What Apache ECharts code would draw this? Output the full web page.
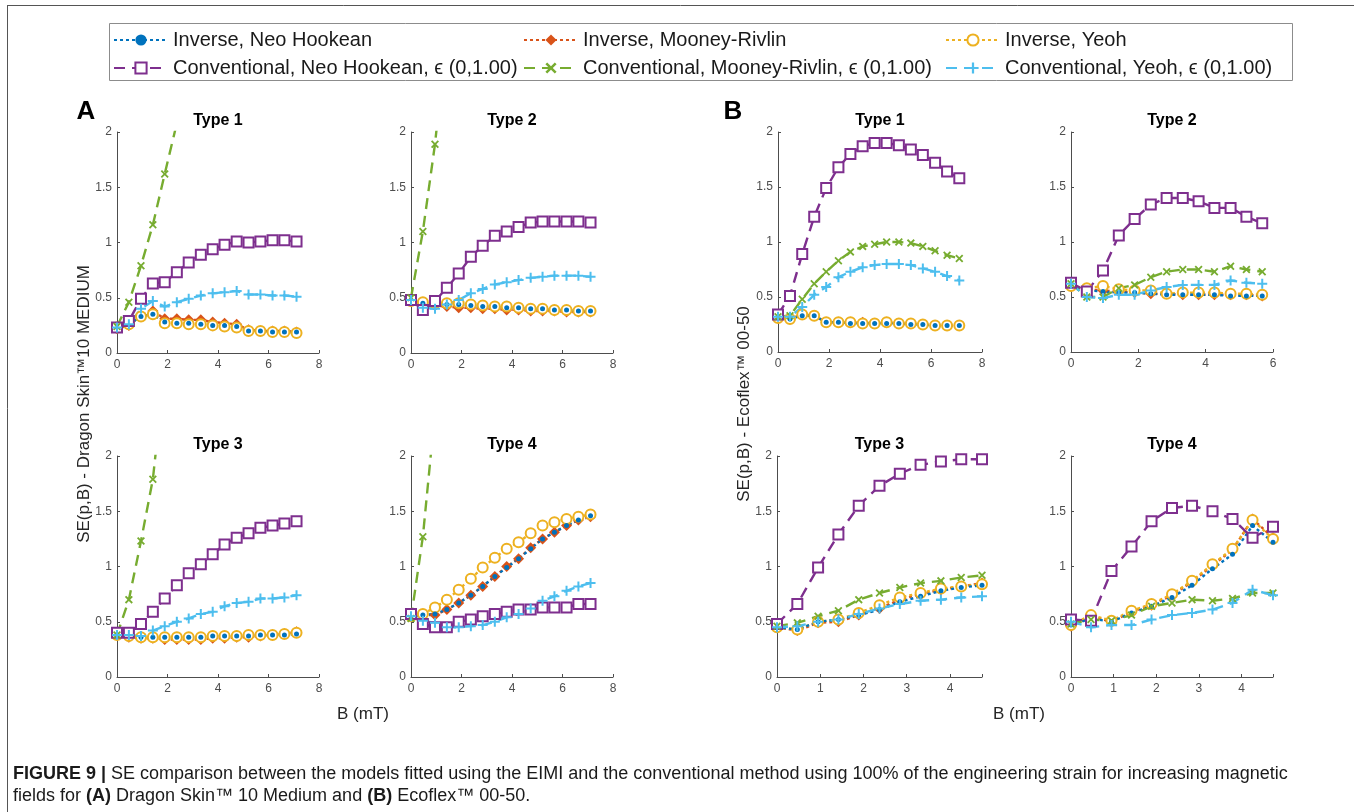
<!DOCTYPE html>
<html>
<head>
<meta charset="utf-8">
<script src="https://cdn.jsdelivr.net/npm/echarts@6/dist/echarts.min.js"></script>
<style>
html,body{margin:0;padding:0;background:#fff;}
#c{width:1354px;height:812px;}
</style>
</head>
<body>
<div id="c"></div>
<script>
// ---------------- DATA ----------------
const xA  = [0,0.47,0.95,1.42,1.89,2.37,2.84,3.32,3.79,4.26,4.74,5.21,5.68,6.16,6.63,7.11];
const xB2 = [0,0.47,0.95,1.42,1.89,2.37,2.84,3.32,3.79,4.26,4.74,5.21,5.68];
const xB34 = [0,0.47,0.95,1.42,1.89,2.37,2.84,3.32,3.79,4.26,4.74];

const yTicks = [0, 0.5, 1, 1.5, 2];
const panelTitles = ['Type 1','Type 2','Type 3','Type 4'];
const seriesNames = {
  invNH: 'Inverse, Neo Hookean',
  invMR: 'Inverse, Mooney-Rivlin',
  invYeoh: 'Inverse, Yeoh',
  convNH: 'Conventional, Neo Hookean, \u03F5 (0,1.00)',
  convMR: 'Conventional, Mooney-Rivlin, \u03F5 (0,1.00)',
  convYeoh: 'Conventional, Yeoh, \u03F5 (0,1.00)'
};

// Panel A (Dragon Skin 10 Medium)
const A1_invNH   = [0.23,0.26,0.33,0.35,0.28,0.27,0.27,0.26,0.25,0.25,0.24,0.20,0.20,0.19,0.19,0.19];
const A1_invMR   = [0.22,0.25,0.34,0.38,0.31,0.31,0.30,0.30,0.28,0.27,0.26,0.21,0.20,0.20,0.20,0.19];
const A1_invYeoh = [0.23,0.26,0.33,0.35,0.27,0.27,0.26,0.26,0.25,0.24,0.23,0.20,0.20,0.19,0.19,0.18];
const A1_convNH  = [0.23,0.29,0.49,0.63,0.64,0.73,0.82,0.89,0.94,0.98,1.01,1.00,1.01,1.02,1.02,1.01];
const A1_convMR  = [0.24,0.46,0.79,1.16,1.62,2.08];
const A1_convYeoh= [0.23,0.26,0.40,0.47,0.42,0.46,0.49,0.52,0.54,0.55,0.56,0.53,0.53,0.52,0.52,0.51];

const A2_invNH   = [0.47,0.45,0.44,0.44,0.44,0.43,0.42,0.42,0.41,0.41,0.40,0.40,0.39,0.39,0.38,0.38];
const A2_invMR   = [0.47,0.44,0.43,0.42,0.41,0.41,0.40,0.40,0.39,0.39,0.38,0.38,0.38,0.37,0.37,0.37];
const A2_invYeoh = [0.47,0.46,0.45,0.45,0.45,0.44,0.43,0.42,0.42,0.41,0.40,0.40,0.39,0.39,0.38,0.38];
const A2_convNH  = [0.48,0.39,0.47,0.59,0.72,0.87,0.97,1.06,1.10,1.14,1.18,1.19,1.19,1.19,1.19,1.18];
const A2_convMR  = [0.50,1.10,1.89,2.90];
const A2_convYeoh= [0.48,0.41,0.40,0.44,0.48,0.54,0.58,0.62,0.64,0.66,0.68,0.69,0.70,0.70,0.70,0.69];

const A3_invNH   = [0.38,0.37,0.36,0.36,0.36,0.36,0.36,0.36,0.37,0.37,0.37,0.37,0.38,0.38,0.38,0.39];
const A3_invMR   = [0.38,0.36,0.35,0.35,0.34,0.34,0.34,0.34,0.35,0.35,0.36,0.36,0.37,0.38,0.39,0.41];
const A3_invYeoh = [0.38,0.37,0.36,0.36,0.36,0.36,0.36,0.36,0.37,0.37,0.37,0.38,0.38,0.38,0.39,0.40];
const A3_convNH  = [0.40,0.40,0.48,0.59,0.71,0.83,0.94,1.02,1.11,1.20,1.26,1.30,1.35,1.37,1.39,1.41];
const A3_convMR  = [0.38,0.70,1.23,1.79,2.78];
const A3_convYeoh= [0.38,0.38,0.37,0.42,0.46,0.50,0.53,0.57,0.59,0.64,0.67,0.68,0.71,0.71,0.72,0.74];

const A4_invNH   = [0.55,0.56,0.57,0.61,0.67,0.74,0.82,0.91,0.99,1.07,1.16,1.25,1.31,1.37,1.42,1.46];
const A4_invMR   = [0.55,0.56,0.56,0.61,0.67,0.74,0.82,0.91,1.00,1.07,1.17,1.25,1.31,1.37,1.42,1.45];
const A4_invYeoh = [0.55,0.57,0.63,0.70,0.79,0.89,0.99,1.08,1.16,1.22,1.30,1.37,1.40,1.43,1.45,1.47];
const A4_convNH  = [0.57,0.48,0.45,0.45,0.50,0.52,0.55,0.57,0.59,0.61,0.61,0.63,0.63,0.63,0.66,0.66];
const A4_convMR  = [0.53,1.27,2.40];
const A4_convYeoh= [0.55,0.51,0.49,0.45,0.45,0.46,0.47,0.50,0.54,0.57,0.62,0.69,0.73,0.78,0.82,0.85];

// Panel B (Ecoflex 00-50)
const B1_invNH   = [0.31,0.30,0.33,0.33,0.27,0.27,0.26,0.26,0.26,0.26,0.26,0.25,0.25,0.24,0.24,0.24];
const B1_invMR   = [0.31,0.30,0.34,0.33,0.27,0.27,0.27,0.27,0.26,0.27,0.26,0.26,0.25,0.24,0.24,0.24];
const B1_invYeoh = [0.31,0.30,0.34,0.33,0.27,0.27,0.27,0.26,0.26,0.27,0.26,0.26,0.25,0.24,0.24,0.24];
const B1_convNH  = [0.34,0.51,0.89,1.23,1.49,1.68,1.80,1.87,1.90,1.90,1.88,1.84,1.79,1.72,1.64,1.58];
const B1_convMR  = [0.32,0.33,0.48,0.62,0.73,0.83,0.91,0.96,0.98,1.00,1.00,0.99,0.96,0.92,0.88,0.85];
const B1_convYeoh= [0.32,0.32,0.41,0.52,0.59,0.68,0.73,0.77,0.79,0.80,0.80,0.79,0.76,0.73,0.69,0.65];

const B2_invNH   = [0.60,0.56,0.55,0.54,0.54,0.53,0.52,0.52,0.52,0.52,0.51,0.51,0.51];
const B2_invMR   = [0.60,0.57,0.56,0.55,0.54,0.53,0.53,0.52,0.52,0.52,0.52,0.52,0.51];
const B2_invYeoh = [0.60,0.58,0.60,0.57,0.56,0.56,0.53,0.54,0.54,0.54,0.53,0.53,0.52];
const B2_convNH  = [0.63,0.55,0.74,1.06,1.21,1.34,1.40,1.40,1.37,1.31,1.31,1.23,1.17];
const B2_convMR  = [0.62,0.50,0.50,0.58,0.61,0.68,0.73,0.75,0.75,0.73,0.78,0.75,0.73];
const B2_convYeoh= [0.62,0.50,0.49,0.52,0.52,0.56,0.59,0.61,0.61,0.61,0.65,0.63,0.62];

const B3_invNH   = [0.45,0.43,0.50,0.52,0.56,0.61,0.68,0.73,0.78,0.81,0.83];
const B3_invMR   = [0.45,0.42,0.49,0.50,0.56,0.62,0.70,0.75,0.79,0.82,0.85];
const B3_invYeoh = [0.45,0.43,0.50,0.52,0.58,0.65,0.72,0.76,0.80,0.82,0.84];
const B3_convNH  = [0.48,0.66,0.99,1.29,1.55,1.73,1.84,1.92,1.95,1.97,1.97];
const B3_convMR  = [0.46,0.49,0.55,0.60,0.70,0.76,0.81,0.85,0.87,0.90,0.92];
const B3_convYeoh= [0.45,0.46,0.50,0.52,0.57,0.62,0.66,0.69,0.70,0.72,0.73];

const B4_invNH   = [0.47,0.53,0.50,0.58,0.64,0.72,0.83,0.98,1.11,1.37,1.22];
const B4_invMR   = [0.46,0.55,0.50,0.59,0.65,0.74,0.86,1.01,1.15,1.43,1.26];
const B4_invYeoh = [0.47,0.56,0.51,0.60,0.66,0.75,0.87,1.02,1.16,1.42,1.25];
const B4_convNH  = [0.52,0.51,0.96,1.18,1.41,1.53,1.55,1.50,1.43,1.26,1.36];
const B4_convMR  = [0.48,0.52,0.51,0.56,0.64,0.67,0.70,0.69,0.71,0.76,0.76];
const B4_convYeoh= [0.50,0.45,0.47,0.47,0.52,0.56,0.58,0.61,0.67,0.79,0.74];

// ---------------- LAYOUT / STYLE ----------------
const FONT = '"Liberation Sans", Arial, Helvetica, sans-serif';
const AXC = '#4d4d4d';
const panels = [
  {x: xA,   xmax: 8,    xint: 2, grid:{left:117, top:132, width:202, height:221}, title:panelTitles[0], d:{invNH:A1_invNH,invMR:A1_invMR,invYeoh:A1_invYeoh,convNH:A1_convNH,convMR:A1_convMR,convYeoh:A1_convYeoh}},
  {x: xA,   xmax: 8,    xint: 2, grid:{left:411, top:132, width:202, height:221}, title:panelTitles[1], d:{invNH:A2_invNH,invMR:A2_invMR,invYeoh:A2_invYeoh,convNH:A2_convNH,convMR:A2_convMR,convYeoh:A2_convYeoh}},
  {x: xA,   xmax: 8,    xint: 2, grid:{left:117, top:456, width:202, height:221}, title:panelTitles[2], d:{invNH:A3_invNH,invMR:A3_invMR,invYeoh:A3_invYeoh,convNH:A3_convNH,convMR:A3_convMR,convYeoh:A3_convYeoh}},
  {x: xA,   xmax: 8,    xint: 2, grid:{left:411, top:456, width:202, height:221}, title:panelTitles[3], d:{invNH:A4_invNH,invMR:A4_invMR,invYeoh:A4_invYeoh,convNH:A4_convNH,convMR:A4_convMR,convYeoh:A4_convYeoh}},
  {x: xA,   xmax: 8,    xint: 2, grid:{left:778, top:132, width:204, height:220}, title:panelTitles[0], d:{invNH:B1_invNH,invMR:B1_invMR,invYeoh:B1_invYeoh,convNH:B1_convNH,convMR:B1_convMR,convYeoh:B1_convYeoh}},
  {x: xB2,  xmax: 6,    xint: 2, grid:{left:1071, top:132, width:202, height:220}, title:panelTitles[1], d:{invNH:B2_invNH,invMR:B2_invMR,invYeoh:B2_invYeoh,convNH:B2_convNH,convMR:B2_convMR,convYeoh:B2_convYeoh}},
  {x: xB34, xmax: 4.74, xint: 1, grid:{left:777, top:456, width:205, height:221}, title:panelTitles[2], d:{invNH:B3_invNH,invMR:B3_invMR,invYeoh:B3_invYeoh,convNH:B3_convNH,convMR:B3_convMR,convYeoh:B3_convYeoh}},
  {x: xB34, xmax: 4.74, xint: 1, grid:{left:1071, top:456, width:202, height:221}, title:panelTitles[3], d:{invNH:B4_invNH,invMR:B4_invMR,invYeoh:B4_invYeoh,convNH:B4_convNH,convMR:B4_convMR,convYeoh:B4_convYeoh}}
];

const PLUS = 'path://M4,0H6V4H10V6H6V10H4V6H0V4H4Z';
const CROSS = 'path://M1.6,0L5,3.4L8.4,0L10,1.6L6.6,5L10,8.4L8.4,10L5,6.6L1.6,10L0,8.4L3.4,5L0,1.6Z';

const styles = {
  invMR:   {color:'#D95319', dash:[3,3], symbol:'diamond', size:11, border:0},
  invYeoh: {color:'#EDB120', dash:[3,3], symbol:'emptyCircle', size:10, border:3},
  invNH:   {color:'#0072BD', dash:[3,3], symbol:'circle', size:5, border:0},
  convNH:  {color:'#7E2F8E', dash:[11,7], symbol:'emptyRect', size:10, border:2.5},
  convMR:  {color:'#77AC30', dash:[11,7], symbol:CROSS, size:8, border:0},
  convYeoh:{color:'#4DBEEE', dash:[11,7], symbol:PLUS, size:10, border:0}
};
const drawOrder = ['invMR','invYeoh','invNH','convNH','convMR','convYeoh'];

function zip(xs, ys){ return ys.map((y,i)=>[xs[i], y]); }

const grids=[], xAxes=[], yAxes=[], series=[];
panels.forEach((p,gi)=>{
  grids.push(Object.assign({containLabel:false}, p.grid));
  xAxes.push({
    type:'value', gridIndex:gi, min:0, max:p.xmax, interval:p.xint,
    axisLine:{show:true, onZero:false, lineStyle:{color:AXC, width:1}},
    axisTick:{show:true, inside:true, length:3, lineStyle:{color:AXC}},
    axisLabel:{color:AXC, fontSize:12, fontFamily:FONT, margin:6,
      formatter:(v)=> (Math.abs(v/p.xint - Math.round(v/p.xint))<1e-6 ? String(Math.round(v)) : '')},
    splitLine:{show:false}
  });
  yAxes.push({
    type:'value', gridIndex:gi, min:yTicks[0], max:yTicks[yTicks.length-1], interval:0.5,
    axisLine:{show:true, onZero:false, lineStyle:{color:AXC, width:1}},
    axisTick:{show:true, inside:true, length:3, lineStyle:{color:AXC}},
    axisLabel:{color:AXC, fontSize:12, fontFamily:FONT, margin:5},
    splitLine:{show:false}
  });
  drawOrder.forEach(k=>{
    const s = styles[k];
    series.push({
      type:'line', name:seriesNames[k], xAxisIndex:gi, yAxisIndex:gi,
      data: zip(p.x, p.d[k]),
      symbol:s.symbol, symbolSize:s.size, showAllSymbol:true,
      clip:true, animation:false, z: 2,
      lineStyle:{color:s.color, width:2.4, type:s.dash},
      itemStyle:{color:s.color, borderColor:s.color, borderWidth:s.border},
      emphasis:{disabled:true}
    });
  });
});

const legendCommon = {
  orient:'vertical', top:30, itemWidth:54, itemHeight:14, itemGap:8, padding:0,
  textStyle:{fontSize:20, fontFamily:FONT, color:'#1a1a1a', lineHeight:20},
  selectedMode:false
};
const legends = [
  Object.assign({left:113, data:[seriesNames.invNH, seriesNames.convNH]}, legendCommon),
  Object.assign({left:523, data:[seriesNames.invMR, seriesNames.convMR]}, legendCommon),
  Object.assign({left:945, data:[seriesNames.invYeoh, seriesNames.convYeoh]}, legendCommon)
];

const graphics = [];
// figure frame
graphics.push({type:'line', shape:{x1:7, y1:5.5, x2:1354, y2:5.5}, style:{stroke:'#555', lineWidth:1}, silent:true});
graphics.push({type:'line', shape:{x1:7.5, y1:5, x2:7.5, y2:812}, style:{stroke:'#555', lineWidth:1}, silent:true});
// legend box
graphics.push({type:'rect', shape:{x:109.5, y:23.5, width:1183, height:57}, style:{fill:null, stroke:'#8c8c8c', lineWidth:1}, silent:true, z:-1});
// panel letters
graphics.push({type:'text', x:86, y:112, style:{text:'A', fontSize:26, fontWeight:'bold', fontFamily:FONT, fill:'#000', align:'center', verticalAlign:'middle'}});
graphics.push({type:'text', x:733, y:112, style:{text:'B', fontSize:26, fontWeight:'bold', fontFamily:FONT, fill:'#000', align:'center', verticalAlign:'middle'}});
// subplot titles
panels.forEach(p=>{
  graphics.push({type:'text', x:p.grid.left + p.grid.width/2, y:p.grid.top - 11,
    style:{text:p.title, fontSize:16, fontWeight:'bold', fontFamily:FONT, fill:'#000', align:'center', verticalAlign:'middle'}});
});
// y labels
graphics.push({type:'text', x:84, y:404, rotation:Math.PI/2,
  style:{text:'SE(p,B) - Dragon Skin\u212210 MEDIUM', fontSize:17, fontFamily:FONT, fill:'#262626', align:'center', verticalAlign:'middle'}});
graphics.push({type:'text', x:744, y:404, rotation:Math.PI/2,
  style:{text:'SE(p,B) - Ecoflex\u2122 00-50', fontSize:17, fontFamily:FONT, fill:'#262626', align:'center', verticalAlign:'middle'}});
// x labels
graphics.push({type:'text', x:363, y:714, style:{text:'B (mT)', fontSize:17, fontFamily:FONT, fill:'#262626', align:'center', verticalAlign:'middle'}});
graphics.push({type:'text', x:1019, y:714, style:{text:'B (mT)', fontSize:17, fontFamily:FONT, fill:'#262626', align:'center', verticalAlign:'middle'}});
// caption
graphics.push({type:'text', x:13, y:774, style:{
  text:'{b|FIGURE 9 |} SE comparison between the models fitted using the EIMI and the conventional method using 100% of the engineering strain for increasing magnetic',
  fontSize:18, fontFamily:FONT, fill:'#1a1a1a', align:'left', verticalAlign:'middle',
  rich:{b:{fontWeight:'bold', fontSize:18, fontFamily:FONT, fill:'#1a1a1a'}}}});
graphics.push({type:'text', x:13, y:796, style:{
  text:'fields for {b|(A)} Dragon Skin\u2122 10 Medium and {b|(B)} Ecoflex\u2122 00-50.',
  fontSize:18, fontFamily:FONT, fill:'#1a1a1a', align:'left', verticalAlign:'middle',
  rich:{b:{fontWeight:'bold', fontSize:18, fontFamily:FONT, fill:'#1a1a1a'}}}});

const chart = echarts.init(document.getElementById('c'), null, {renderer:'canvas'});
chart.setOption({
  backgroundColor:'#fff',
  animation:false,
  legend: legends,
  grid: grids,
  xAxis: xAxes,
  yAxis: yAxes,
  series: series,
  graphic: graphics
});
</script>
</body>
</html>
